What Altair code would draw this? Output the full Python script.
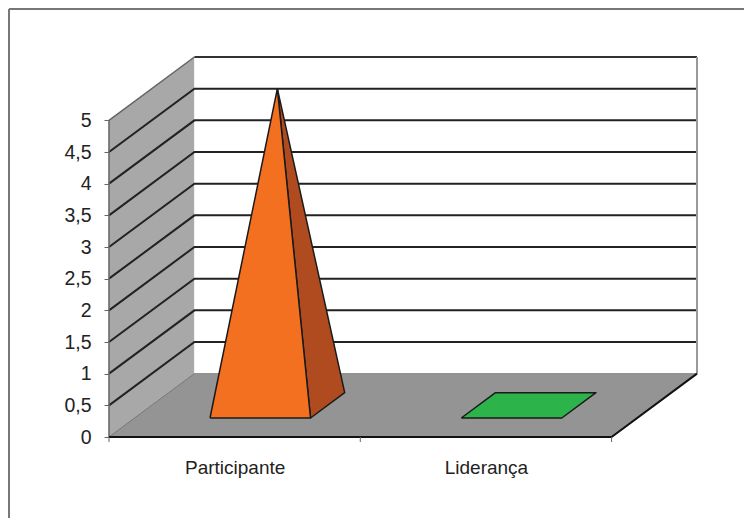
import altair as alt
import pandas as pd

CATEGORIES = ["Participante", "Liderança"]
VALUES = [5, 0]
Y_TICKS = [0, 0.5, 1, 1.5, 2, 2.5, 3, 3.5, 4, 4.5, 5]
Y_MAX = 5

# oblique projection: one unit of depth moves this far along each axis
DEPTH_X = 0.34
DEPTH_Y = 1.0
BAR_LO, BAR_HI = 0.3, 0.7
N = len(CATEGORIES)


def proj(cx, depth, v):
    return (cx + DEPTH_X * depth, v + DEPTH_Y * depth)


x_scale = alt.Scale(domain=[0, N + DEPTH_X], nice=False, zero=False)
y_scale = alt.Scale(domain=[0, Y_MAX + DEPTH_Y], nice=False, zero=False)

label_expr = " : ".join(
    f"datum.value < {i + 1} ? '{c}'" for i, c in enumerate(CATEGORIES[:-1])
) + f" : '{CATEGORIES[-1]}'"

X = alt.X("x:Q", scale=x_scale, title=None, axis=alt.Axis(
    values=[i + 0.5 for i in range(N)], labelExpr=label_expr, ticks=False, domain=False, grid=False,
    labelPadding=21, labelFontSize=19, labelColor="#222222", labelFont="Liberation Sans"))
Y = alt.Y("y:Q", scale=y_scale, title=None, axis=alt.Axis(
    values=Y_TICKS, labelExpr="replace(format(datum.value, '.1~f'), '.', ',')",
    domain=False, grid=False, tickColor="#666666", tickSize=5, tickWidth=1, labelPadding=13,
    labelFontSize=19.5, labelColor="#222222", labelFont="Liberation Sans"))


def enc(chart):
    return chart.encode(x=X, y=Y, order=alt.Order("i:Q"))


def poly(pts, fill, stroke=None, width=0):
    closed = list(pts) + [pts[0]]
    df = pd.DataFrame([{"x": p[0], "y": p[1], "i": i} for i, p in enumerate(closed)])
    kw = dict(fill=fill, strokeJoin="round")
    if stroke:
        kw.update(stroke=stroke, strokeWidth=width)
    else:
        kw.update(stroke=fill, strokeWidth=0.5)
    return enc(alt.Chart(df).mark_line(**kw))


def line(pts, color, width):
    df = pd.DataFrame([{"x": p[0], "y": p[1], "i": i} for i, p in enumerate(pts)])
    return enc(alt.Chart(df).mark_line(color=color, strokeWidth=width))


layers = []

# walls and floor
layers.append(poly([proj(0, 0, 0), proj(0, 0, Y_MAX), proj(0, 1, Y_MAX), proj(0, 1, 0)], "#a8a8a8"))
layers.append(poly([proj(0, 1, 0), proj(0, 1, Y_MAX), proj(N, 1, Y_MAX), proj(N, 1, 0)], "#ffffff"))
layers.append(poly([proj(0, 0, 0), proj(N, 0, 0), proj(N, 1, 0), proj(0, 1, 0)], "#949494"))

# gridlines wrapped round the left and back walls
for t in Y_TICKS[1:]:
    if t == Y_MAX:
        layers.append(line([proj(0, 0, t), proj(0, 1, t)], "#666666", 1.5))
        layers.append(line([proj(0, 1, t), proj(N, 1, t)], "#333333", 2))
    else:
        layers.append(line([proj(0, 0, t), proj(0, 1, t), proj(N, 1, t)], "#222222", 2))

# wall and floor edges
layers.append(line([proj(N, 1, 0), proj(N, 1, Y_MAX)], "#999999", 2))
layers.append(line([proj(0, 1, 0), proj(N, 1, 0)], "#8a8a8a", 1))
layers.append(line([proj(0, 0, 0), proj(0, 1, 0)], "#777777", 1))
layers.append(line([proj(0, 0, 0), proj(0, 0, Y_MAX)], "#666666", 1.5))
layers.append(line([proj(0, 0, 0), proj(N, 0, 0), proj(N, 1, 0)], "#111111", 2))

# pyramids
ORANGE, ORANGE_SIDE, GREEN = "#f37021", "#b04b20", "#2cb34a"
for k, v in enumerate(VALUES):
    lo, hi = k + BAR_LO, k + BAR_HI
    mid = k + 0.5
    apex = proj(mid, 0.5, v)
    if v > 0:
        layers.append(poly([proj(hi, BAR_LO, 0), proj(hi, BAR_HI, 0), apex], ORANGE_SIDE, "#1a1a1a", 1.5))
        layers.append(poly([proj(lo, BAR_LO, 0), proj(hi, BAR_LO, 0), apex], ORANGE, "#1a1a1a", 1.5))
    else:
        layers.append(poly([proj(lo, BAR_LO, 0), proj(hi, BAR_LO, 0), proj(hi, BAR_HI, 0), proj(lo, BAR_HI, 0)],
                           GREEN, "#1a1a1a", 1.5))

# category tick marks under the floor's front edge
tick_df = pd.DataFrame({"x": list(range(N + 1))})
layers.append(alt.Chart(tick_df).mark_rule(color="#666666", strokeWidth=1).encode(
    x=X, y=alt.value(380), y2=alt.value(385),
))

# picture frame (top and left edges)
layers.append(alt.Chart(pd.DataFrame({"a": [0]})).mark_rule(color="#777777", strokeWidth=2).encode(
    x=alt.value(-100), x2=alt.value(635), y=alt.value(-48)))
layers.append(alt.Chart(pd.DataFrame({"a": [0]})).mark_rule(color="#777777", strokeWidth=2).encode(
    x=alt.value(-100), y=alt.value(-48), y2=alt.value(461)))

chart = alt.layer(*layers).properties(
    width=588, height=380,
    autosize=alt.AutoSizeParams(type="none"),
    padding={"left": 101, "top": 49, "right": 47, "bottom": 81},
    background="#ffffff",
).configure_view(stroke=None)

chart.save("out.html", embed_options={"renderer": "svg", "actions": False})
